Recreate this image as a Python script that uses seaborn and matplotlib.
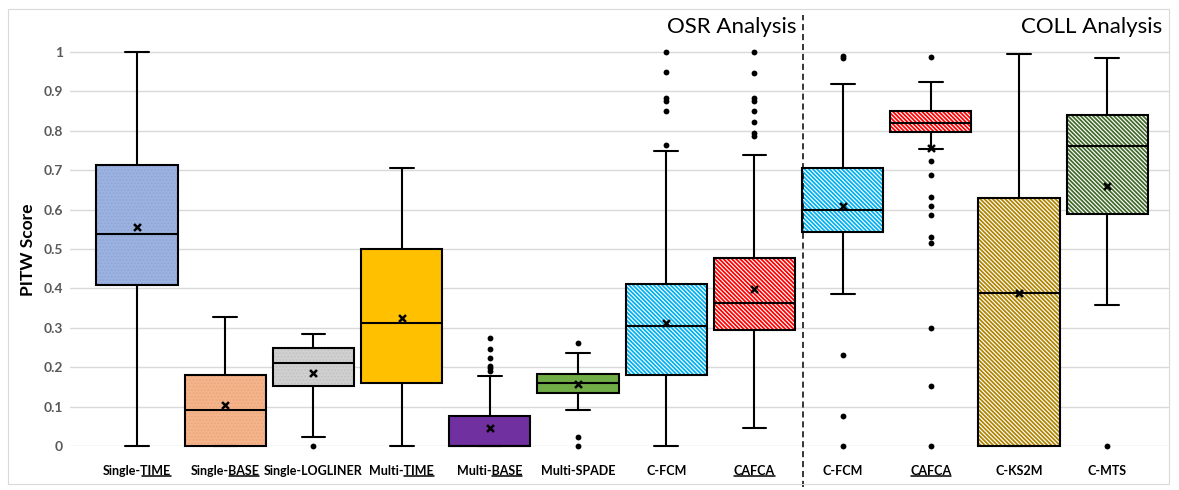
import numpy as np
import pandas as pd
import seaborn as sns
from matplotlib import pyplot as plt
from matplotlib.lines import Line2D
from matplotlib.patches import PathPatch, Rectangle

# categories (unique keys) and what is printed under each box
keys = ['Single-TIME', 'Single-BASE', 'Single-LOGLINER', 'Multi-TIME', 'Multi-BASE', 'Multi-SPADE',
        'C-FCM (OSR)', 'CAFCA (OSR)', 'C-FCM (COLL)', 'CAFCA (COLL)', 'C-KS2M', 'C-MTS']
tick_labels = ['Single-TIME', 'Single-BASE', 'Single-LOGLINER', 'Multi-TIME', 'Multi-BASE', 'Multi-SPADE',
               'C-FCM', 'CAFCA', 'C-FCM', 'CAFCA', 'C-KS2M', 'C-MTS']
# underlined tail of each tick label
underlined = ['TIME', 'BASE', '', 'TIME', 'BASE', '', '', 'CAFCA', '', 'CAFCA', '', '']

# box statistics
whisker_low = [0.0, 0.0, 0.024, 0.0, 0.0, 0.091, 0.0, 0.045, 0.385, 0.755, 0.0, 0.358]
q1 = [0.409, 0.0, 0.153, 0.160, 0.0, 0.135, 0.181, 0.294, 0.544, 0.798, 0.0, 0.590]
median = [0.538, 0.091, 0.211, 0.312, 0.0, 0.160, 0.304, 0.364, 0.599, 0.819, 0.388, 0.761]
q3 = [0.713, 0.181, 0.250, 0.500, 0.075, 0.183, 0.411, 0.476, 0.706, 0.849, 0.629, 0.840]
whisker_high = [1.0, 0.328, 0.285, 0.706, 0.177, 0.235, 0.749, 0.739, 0.920, 0.923, 0.994, 0.985]
means = [0.556, 0.104, 0.186, 0.326, 0.045, 0.157, 0.313, 0.398, 0.609, 0.757, 0.388, 0.661]

outliers = {
    'Single-LOGLINER': [0.0],
    'Multi-BASE': [0.275, 0.245, 0.224, 0.204, 0.197, 0.190],
    'Multi-SPADE': [0.262, 0.024, 0.0],
    'C-FCM (OSR)': [0.999, 0.948, 0.882, 0.876, 0.849, 0.763],
    'CAFCA (OSR)': [0.999, 0.947, 0.882, 0.876, 0.849, 0.822, 0.795, 0.788],
    'C-FCM (COLL)': [0.990, 0.984, 0.230, 0.077, 0.0],
    'CAFCA (COLL)': [0.987, 0.723, 0.689, 0.633, 0.609, 0.586, 0.530, 0.514, 0.299, 0.153, 0.0],
    'C-MTS': [0.0],
}

face_colors = ['#9cb2e0', '#f5b48a', '#d0d0d0', '#ffc000', '#7030a0', '#70ad47',
               '#00b0f0', '#ff0000', '#00b0f0', '#ff0000', '#b08400', '#41692a']
stripes = '\\' * 8
hatches = ['.....', '.....', '.....', '', '', '',
           stripes, stripes, stripes, stripes, stripes, stripes]
hatch_colors = ['#8ea5d6', '#eaa67c', '#c2c2c2', None, None, None,
                'white', 'white', 'white', 'white', 'white', 'white']

# five numbers per box -> with whis=inf seaborn gives exactly these quartiles / whiskers
box_df = pd.DataFrame({
    'method': np.repeat(keys, 5),
    'score': np.column_stack([whisker_low, q1, median, q3, whisker_high]).ravel(),
})
out_df = pd.DataFrame([(k, v) for k, vals in outliers.items() for v in vals], columns=['method', 'score'])

sns.set_style('white')
plt.rcParams['font.family'] = ['Lato', 'DejaVu Sans']
plt.rcParams['hatch.linewidth'] = 0.85

fig = plt.figure(figsize=(11.79, 4.9), dpi=100)
ax = fig.add_axes([70 / 1179, 44 / 490, 1099 / 1179, 433.4 / 490])

sns.boxplot(data=box_df, x='method', y='score', hue='method', order=keys, hue_order=keys,
            palette=dict(zip(keys, face_colors)), saturation=1, whis=np.inf, width=0.92,
            linecolor='black', linewidth=1.5, showfliers=False, legend=False, ax=ax)

boxes = list(ax.patches)
for patch, h, hc in zip(boxes, hatches, hatch_colors):
    if h:
        patch.set_hatch(h)
        patch.set_edgecolor(hc)
        patch.set_linewidth(0)
        ax.add_patch(PathPatch(patch.get_path(), transform=patch.get_transform(), fill=False,
                               edgecolor='black', lw=1.5, zorder=patch.get_zorder() + 0.01, clip_on=False))
    patch.set_clip_on(False)

# shrink whisker caps
for line in ax.lines:
    xd, yd = line.get_xdata(), line.get_ydata()
    if len(xd) == 2 and yd[0] == yd[1] and abs(xd[1] - xd[0]) > 0.3 and abs(xd[1] - xd[0]) < 0.5:
        c = (xd[0] + xd[1]) / 2
        line.set_xdata([c - 0.135, c + 0.135])
    line.set_clip_on(False)

sns.stripplot(data=out_df, x='method', y='score', order=keys, jitter=False, color='black',
              size=4.2, ax=ax)
sns.stripplot(x=keys, y=means, order=keys, jitter=False, marker='x', color='black',
              edgecolor='black', linewidth=1.8, size=5, ax=ax)
for coll in ax.collections:
    coll.set_clip_on(False)
    coll.set_zorder(5)

# OSR / COLL divider and headings
ax.plot([7.55, 7.55], [-0.105, 1.094], ls=(0, (4, 2.5)), color='black', lw=1.1, clip_on=False)
ax.text(7.48, 1.063, 'OSR Analysis', ha='right', va='center', fontsize=16, color='black')
ax.text(11.62, 1.063, 'COLL Analysis', ha='right', va='center', fontsize=16, color='black')

ax.set_xlim(-0.76, 11.70)
ax.set_ylim(0, 1.1)
yt = np.round(np.arange(0, 1.01, 0.1), 1)
ax.set_yticks(yt)
ax.set_yticklabels(['0' if v == 0 else ('1' if v == 1 else f'{v:g}') for v in yt],
                   fontweight='bold', color='#595959', fontsize=10)
ax.set_xticks(range(len(keys)))
ax.set_xticklabels(tick_labels, fontweight='bold', fontsize=9, color='black')
ax.tick_params(axis='x', length=0, pad=14)
ax.tick_params(axis='y', length=0, pad=5)
ax.yaxis.grid(True, color='#d9d9d9', lw=1)
ax.xaxis.grid(False)
ax.set_axisbelow(True)
for s in ax.spines.values():
    s.set_visible(False)
ax.set_xlabel('')
ax.set_ylabel('PITW Score', fontsize=12.5, fontweight='bold', color='black')
ax.yaxis.set_label_coords(-0.031, 0.452)

# light frame round the whole chart
fig.add_artist(Rectangle((8 / 1179, 1 - 484 / 490), 1161 / 1179, 475 / 490, transform=fig.transFigure,
                         fill=False, edgecolor='#d9d9d9', lw=0.8))

# underline parts of the tick labels
fig.canvas.draw()
renderer = fig.canvas.get_renderer()
inv = fig.transFigure.inverted()
for t, label, part in zip(ax.get_xticklabels(), tick_labels, underlined):
    if not part:
        continue
    bb = t.get_window_extent(renderer)
    prefix = label[:len(label) - len(part)]
    x0 = bb.x0
    if prefix:
        tmp = fig.text(0, 0, prefix, fontproperties=t.get_fontproperties())
        x0 = bb.x0 + tmp.get_window_extent(renderer).width
        tmp.remove()
    y = bb.y0 + 1.5
    (fx0, fy), (fx1, _) = inv.transform([(x0 + 0.5, y), (bb.x1 - 0.5, y)])
    fig.add_artist(Line2D([fx0, fx1], [fy, fy], transform=fig.transFigure, color='black', lw=1.1))

fig.savefig('out.png', dpi=100)
